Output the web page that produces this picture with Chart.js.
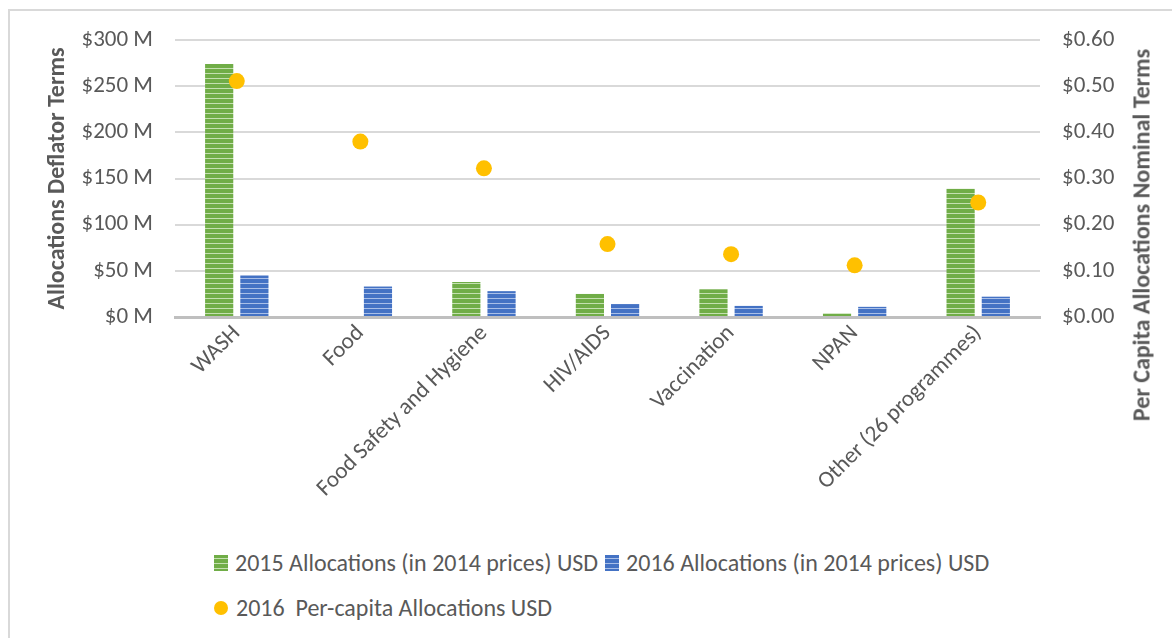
<!DOCTYPE html>
<html>
<head>
<meta charset="utf-8">
<script src="https://cdn.jsdelivr.net/npm/chart.js@4.4.1/dist/chart.umd.min.js"></script>
<style>
  html, body { margin: 0; padding: 0; background: #fff; }
  body { width: 1172px; height: 638px; position: relative; overflow: hidden;
         font-family: Carlito, Lato, "Open Sans", sans-serif; }
  .frame { position: absolute; left: 8px; top: 9px; width: 1200px; height: 700px;
           border-top: 2px solid #d9d9d9; border-left: 2px solid #d9d9d9; }
  #wrap { position: absolute; left: 0; top: 0; width: 1172px; height: 520px; }
  .legend { position: absolute; left: 214px; color: #595959; font-size: 24px; white-space: pre; line-height: 28px; }
  .legend span.item { display: inline-flex; align-items: center; margin-right: 7px; }
  .box { display: inline-block; width: 14px; height: 16px; margin-right: 7px; }
  .dot { display: inline-block; width: 14px; height: 14px; border-radius: 50%; background: #FFC000; margin-right: 8px; }
  .rtitle { position: absolute; left: 1141px; top: 235px; transform: translate(-50%, -50%) rotate(-90deg);
            white-space: nowrap; color: #595959; font-weight: bold; font-size: 24px; }
</style>
</head>
<body>
<div class="frame"></div>
<div id="wrap"><canvas id="chart" width="1172" height="520"></canvas></div>
<div class="rtitle" id="rightTitle"></div>
<div class="legend" id="legendRow1" style="top:549px"></div>
<div class="legend" id="legendRow2" style="top:593px"></div>
<script>
const categories = ["WASH", "Food", "Food Safety and Hygiene", "HIV/AIDS", "Vaccination", "NPAN", "Other (26 programmes)"];
const alloc2015 = [274, 0, 38, 25, 30, 4, 139];      // $ M, 2014 prices
const alloc2016 = [45, 33, 28, 14, 12, 11, 22];      // $ M, 2014 prices
const perCapita2016 = [0.511, 0.380, 0.322, 0.158, 0.136, 0.112, 0.248];
const seriesNames = [
  "2015 Allocations (in 2014 prices) USD",
  "2016 Allocations (in 2014 prices) USD",
  "2016  Per-capita Allocations USD"
];
const leftTicks = [0, 50, 100, 150, 200, 250, 300];
const rightTicks = [0, 0.1, 0.2, 0.3, 0.4, 0.5, 0.6];
const leftTitle = "Allocations Deflator Terms";
const rightTitle = "Per Capita Allocations Nominal Terms";

const GREEN = "#70AD47", GREEN_LT = "#c4e0b0";
const BLUE = "#4472C4", BLUE_LT = "#a9bfe8";
const GOLD = "#FFC000";
const TEXT = "#595959";
const FONT = 'Carlito, Lato, "Open Sans", sans-serif';

// horizontal stripe fill like the Excel pattern
function stripes(base, light) {
  const c = document.createElement("canvas");
  c.width = 4; c.height = 5;
  const x = c.getContext("2d");
  x.fillStyle = base; x.fillRect(0, 0, 4, 5);
  x.fillStyle = light; x.fillRect(0, 3, 4, 1);
  return x.createPattern(c, "repeat");
}

const ctx = document.getElementById("chart").getContext("2d");
new Chart(ctx, {
  type: "bar",
  data: {
    labels: categories,
    datasets: [
      { label: seriesNames[0], data: alloc2015, backgroundColor: stripes(GREEN, GREEN_LT),
        yAxisID: "y", order: 2, categoryPercentage: 0.57, barPercentage: 0.8 },
      { label: seriesNames[1], data: alloc2016, backgroundColor: stripes(BLUE, BLUE_LT),
        yAxisID: "y", order: 2, categoryPercentage: 0.57, barPercentage: 0.8 },
      { type: "line", label: seriesNames[2], data: perCapita2016, yAxisID: "y1", order: 0,
        showLine: false, pointRadius: 8, pointHoverRadius: 8, pointBackgroundColor: GOLD,
        pointBorderColor: GOLD, pointBorderWidth: 0, backgroundColor: GOLD, borderColor: GOLD }
    ]
  },
  options: {
    responsive: false,
    animation: false,
    layout: { padding: { left: 20, right: 12, top: 40, bottom: 0 } },
    plugins: { legend: { display: false }, tooltip: { enabled: false } },
    scales: {
      x: {
        grid: { display: false },
        border: { display: true, color: "#bfbfbf", width: 3 },
        ticks: { color: TEXT, font: { family: FONT, size: 23 }, minRotation: 45, maxRotation: 45,
                 autoSkip: false, padding: -5 },
        afterFit: (s) => { s.height = 203; }
      },
      y: {
        position: "left", min: 0, max: 300,
        afterBuildTicks: (s) => { s.ticks = leftTicks.map(v => ({ value: v })); },
        grid: { color: "#d9d9d9", lineWidth: 2, drawTicks: false },
        border: { display: false },
        ticks: { color: TEXT, font: { family: FONT, size: 23 }, padding: 22,
                 callback: (v) => "$" + v + " M" },
        title: { display: true, text: leftTitle, color: TEXT,
                 font: { family: FONT, size: 24, weight: "bold" }, padding: { top: 24, bottom: 0 } },
        afterFit: (s) => { s.width = 155; }
      },
      y1: {
        position: "right", min: 0, max: 0.6,
        afterBuildTicks: (s) => { s.ticks = rightTicks.map(v => ({ value: v })); },
        grid: { display: false, drawTicks: false },
        border: { display: false },
        ticks: { color: TEXT, font: { family: FONT, size: 23 }, padding: 22,
                 callback: (v) => "$" + Number(v).toFixed(2) },
        afterFit: (s) => { s.width = 120; }
      }
    }
  }
});

// right axis title sits lower than the plot centre in the original, so place it by hand
document.getElementById("rightTitle").textContent = rightTitle;

// legend laid out the way Excel wrapped it: two bar series on row 1, dots on row 2
const row1 = document.getElementById("legendRow1");
const row2 = document.getElementById("legendRow2");
[[GREEN, GREEN_LT], [BLUE, BLUE_LT]].forEach(([c, l], i) => {
  const item = document.createElement("span");
  item.className = "item";
  const b = document.createElement("span");
  b.className = "box";
  b.style.background = `repeating-linear-gradient(to bottom, ${c} 0px, ${c} 3px, ${l} 3px, ${l} 4px, ${c} 4px, ${c} 5px)`;
  item.appendChild(b);
  item.appendChild(document.createTextNode(seriesNames[i]));
  row1.appendChild(item);
});
const item3 = document.createElement("span");
item3.className = "item";
const d = document.createElement("span");
d.className = "dot";
item3.appendChild(d);
item3.appendChild(document.createTextNode(seriesNames[2]));
row2.appendChild(item3);
</script>
</body>
</html>
